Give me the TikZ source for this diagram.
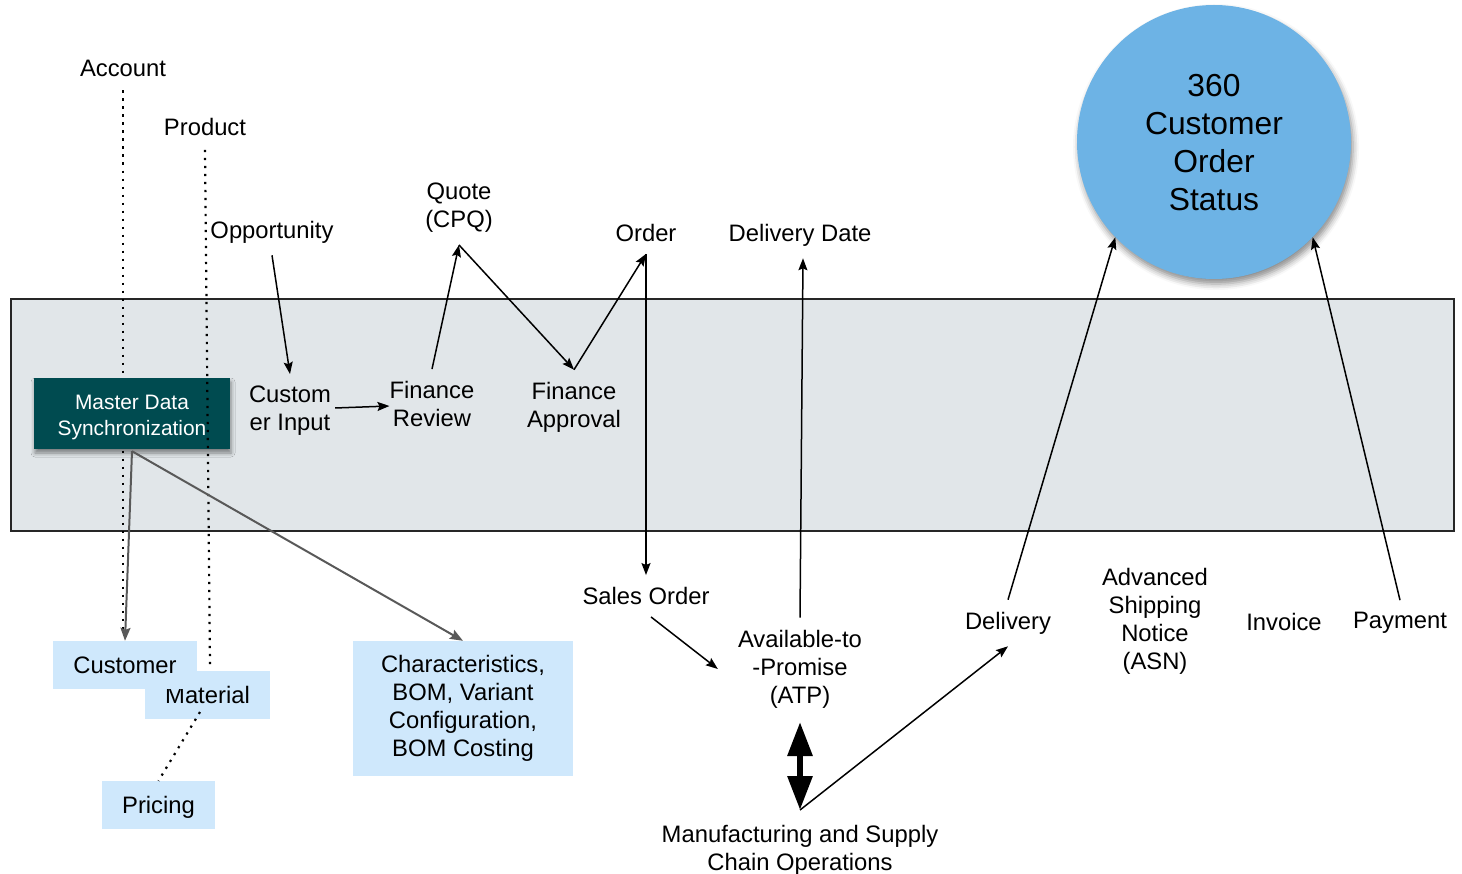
\documentclass[tikz,border=0pt]{standalone}
\usepackage{fontspec}
\setmainfont{Liberation Sans}
\usetikzlibrary{arrows.meta,calc,shadows.blur}
\definecolor{bandfill}{HTML}{E1E6E9}
\definecolor{mdsteal}{HTML}{004B50}
\definecolor{lblue}{HTML}{CFE8FC}
\definecolor{cblue}{HTML}{6DB3E5}
\begin{document}
\begin{tikzpicture}[x=1pt,y=-1pt,
  lbl/.style={align=center,inner xsep=4pt,inner ysep=12pt,font=\fontsize{23.8}{28}\selectfont},
  arr/.style={line width=1.5pt,-{Stealth[length=12pt,width=9pt,inset=2pt]}},
  garr/.style={line width=2pt,draw=black!65,-{Stealth[length=13pt,width=10pt,inset=2pt]}},
  dots/.style={line width=2.2pt,dash pattern=on 2.2pt off 5.8pt},
  lbox/.style={fill=lblue,inner sep=0pt,font=\fontsize{23.8}{28}\selectfont},
]
\useasboundingbox (0,0) rectangle (1462,874);
% band
\draw[fill=bandfill,draw=black!85,line width=2pt] (11,299) rectangle (1454,531);

% labels
\node[lbl] (acct) at (123,68) {Account};
\node[lbl] (prod) at (205,127) {Product};
\node[lbl] (opp) at (272,232) {Opportunity};
\node[lbl] (cin) at (290,411) {Custom\\er Input};
\node[lbl] (frev) at (432,404) {Finance\\Review};
\node[lbl] (quote) at (459,208) {Quote\\(CPQ)};
\node[lbl] (fapp) at (574,407) {Finance\\Approval};
\node[lbl] (order) at (646,233) {Order};
\node[lbl] (ddate) at (800,235) {Delivery Date};
\node[lbl] (sorder) at (646,596) {Sales Order};
\node[lbl] (atp) at (800,669) {Available-to\\-Promise\\(ATP)};
\node[lbl] (mfg) at (800,850) {Manufacturing and Supply\\Chain Operations};
\node[lbl] (deliv) at (1008,623) {Delivery};
\node[lbl] (asn) at (1155,621) {Advanced\\Shipping\\Notice\\(ASN)};
\node[lbl] (inv) at (1284,622) {Invoice};
\node[lbl] (pay) at (1400,623) {Payment};

% account dotted line (behind master data box)
\coordinate (acctend) at (123,632);
\draw[dots] ([yshift=-2pt]acct.south) -- (acctend);

% master data box
\node[fill=mdsteal,minimum width=196pt,minimum height=71pt,inner sep=0pt,
  blur shadow={shadow xshift=1pt,shadow yshift=-4pt,shadow blur radius=4pt,shadow opacity=45}]
  (mds) at (132,413.5) {};
\node[text=white,align=center,inner sep=0pt,font=\fontsize{20.9}{26}\selectfont]
  (mdstext) at ($(mds.center)+(0,3.5)$) {Master Data\\Synchronization};

% boxes
\node[lbox,minimum width=125pt,minimum height=48pt] (mat) at (207.5,695) {Material};
\node[lbox,minimum width=144pt,minimum height=48pt] (cust) at (125,665) {Customer};
\node[lbox,minimum width=113pt,minimum height=48pt,text depth=0pt] (pric) at (158.5,805) {Pricing};
\node[lbox,align=center,minimum width=220pt,minimum height=135pt] (char) at (463,708.5) {Characteristics,\\BOM, Variant\\Configuration,\\BOM Costing};

% product dotted line (over master data box)
\coordinate (matdot) at (210,665);
\draw[dots] ([yshift=-2pt]prod.south) -- (matdot);
\coordinate (matlow) at (200,712);
\draw[dots] (matlow) -- (pric.north);

% circle
\node[circle,fill=cblue,minimum size=274pt,inner sep=0pt,
  blur shadow={shadow xshift=2pt,shadow yshift=-5pt,shadow blur radius=6pt,shadow opacity=45}]
  (circ) at (1214,142) {};
\node[align=center,inner sep=0pt,font=\fontsize{31.8}{38}\selectfont]
  (circtext) at ($(circ.center)+(0,1)$) {360\\Customer\\Order\\Status};

% arrows
\draw[arr] (opp.south) -- (cin.north);
\draw[arr] ([yshift=3pt]cin.east) -- ([xshift=4pt,yshift=-2pt]frev.west);
\draw[arr] (frev.north) -- (quote.south);
\draw[arr] (quote.south) -- (fapp.north);
\draw[arr] (fapp.north) -- (order.south);
\draw[arr] (order.south) -- (sorder.north);
\draw[arr] ([xshift=5pt]sorder.south) -- ($(atp.west)+(-16,0)$);
\draw[arr] (atp.north) -- ([xshift=3pt]ddate.south);
\coordinate (dtop) at (800,722);
\coordinate (dtip) at (800,810);
\draw[line width=6pt,{Triangle[length=34pt,width=24pt]}-{Triangle[length=34pt,width=24pt]}] (dtop) -- (dtip);
\draw[arr] (dtip) -- (deliv.south);
\draw[arr] (deliv.north) -- (circ.224);
\draw[arr] (pay.north) -- (circ.316);

% gray arrows from master data
\draw[garr] ([yshift=-2pt]mds.south) -- (cust.north);
\draw[garr] ([yshift=-2pt]mds.south) -- (char.north);
\end{tikzpicture}
\end{document}
